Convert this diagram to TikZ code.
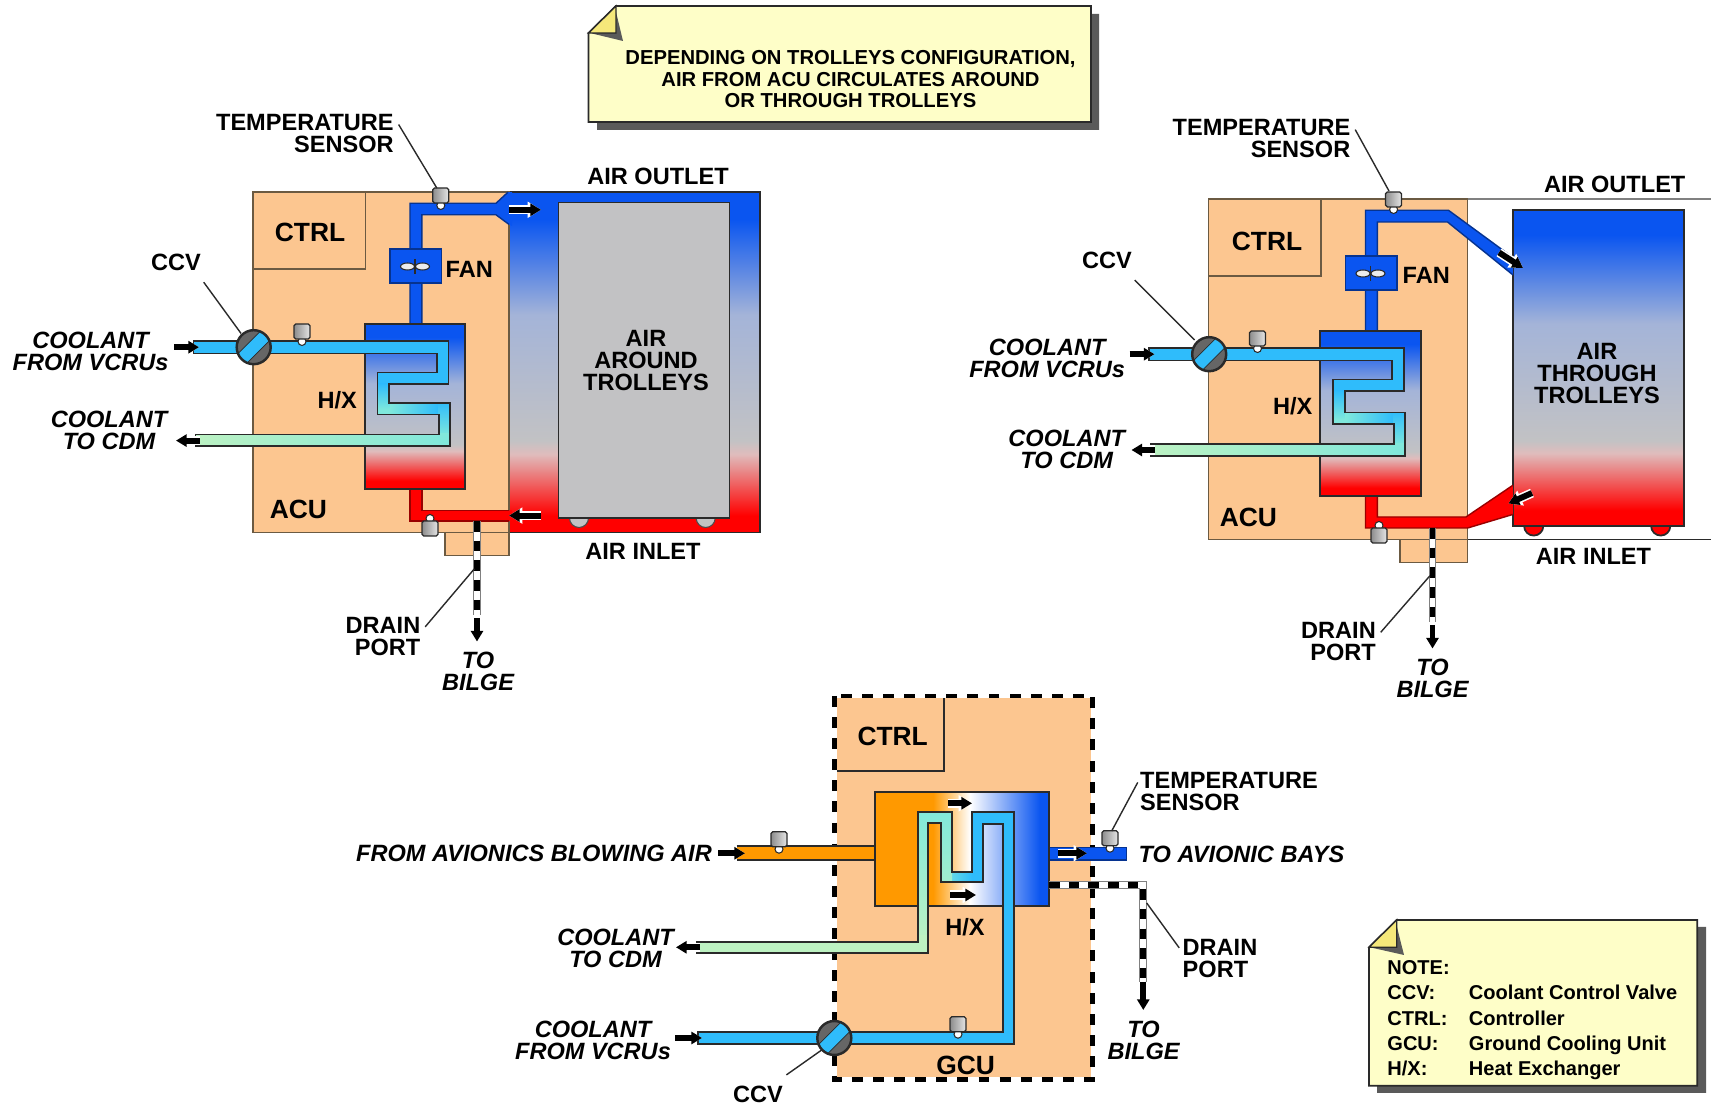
\documentclass[tikz,border=0pt]{standalone}
\usepackage{fontspec}
\setmainfont{Liberation Sans}
\usetikzlibrary{arrows.meta}
\definecolor{acutan}{HTML}{FCC690}
\definecolor{tanline}{HTML}{6B5A42}
\definecolor{linedark}{HTML}{2A2A2A}
\definecolor{airblue}{HTML}{0A55F0}
\definecolor{airmid}{HTML}{A4B4D8}
\definecolor{airgray}{HTML}{C2C2C4}
\definecolor{airpink}{HTML}{E0BCBC}
\definecolor{airred}{HTML}{FF0000}
\definecolor{coolcyan}{HTML}{2FBCFB}
\definecolor{coolteal}{HTML}{7FE8DC}
\definecolor{coolpale}{HTML}{BDF2C2}
\definecolor{hxorange}{HTML}{FF9900}
\definecolor{notefill}{HTML}{FEFEC8}
\definecolor{notefold}{HTML}{F5E87A}
\definecolor{noteshade}{HTML}{5A5A5A}
\pgfdeclareverticalshading{airblend}{100bp}{color(0bp)=(airred); color(27.5bp)=(airred); color(36.5bp)=(airpink); color(38.5bp)=(airgray); color(57bp)=(airmid); color(71bp)=(airblue); color(100bp)=(airblue)}
\pgfdeclarehorizontalshading{hxblend}{100bp}{color(0bp)=(hxorange); color(41.7bp)=(hxorange); color(52.3bp)=(white); color(72.4bp)=(airblue); color(100bp)=(airblue)}
\tikzset{
  lbl/.style={font=\bfseries\fontsize{6.7}{6.26}\selectfont, align=center, inner sep=0pt},
  lblit/.style={font=\bfseries\itshape\fontsize{6.7}{6.26}\selectfont, align=center, inner sep=0pt},
  lblbig/.style={font=\bfseries\fontsize{7.5}{8}\selectfont, inner sep=0pt},
  notetext/.style={font=\bfseries\fontsize{5.75}{6.1}\selectfont, align=center, inner sep=0pt},
  unitbox/.style={fill=acutan, draw=tanline, line width=.5pt},
  pipeline/.style={draw=linedark, line width=.5pt},
  pipeblue/.style={draw=airblue!60!black, line width=.4pt},
  pipered/.style={draw=airred!60!black, line width=.4pt},
  leader/.style={draw=linedark, line width=.4pt},
  flow/.style={line width=1.7pt, -{Triangle[length=3pt,width=3.4pt]},
    preaction={draw=white, line width=2.6pt, -{Triangle[length=3.8pt,width=4.4pt]}}},
  drainpipe/.style={draw=black, line width=1.7pt, dash pattern=on 3pt off 2.6pt,
    preaction={draw=gray, line width=2.2pt, solid},
    preaction={draw=white, line width=1.6pt, solid}},
  pics/sensor/.style={code={
    \filldraw[fill=white, draw=linedark, line width=.3pt] (0,2.5) circle (4);
    \shadedraw[left color=gray!90, right color=gray!20, draw=linedark, line width=.35pt,
      rounded corners=.5pt] (-8,-15) rectangle (8,0);
  }},
  pics/valve/.style={code={
    \fill[gray!80!black] (0,0) circle (17);
    \begin{scope}
      \clip (0,0) circle (17);
      \filldraw[fill=coolcyan, draw=linedark, line width=.2pt, rotate=45] (-20,-6.5) rectangle (20,6.5);
    \end{scope}
    \draw[linedark, line width=.7pt] (0,0) circle (17);
  }}
}
% parts shared by both ACUs
\newcommand{\acubox}[1]{
  \draw[unitbox] (253,192.2) rectangle (#1,532.5);
  \draw[unitbox] (253,192.2) rectangle (365.6,268.8);
  \draw[unitbox] (444.7,532.5) rectangle (#1,555.4);
}
\newcommand{\acucore}[1]{
  % heat exchanger and fan
  \shadedraw[shading=airblend, pipeline] (364.8,323.9) rectangle (465.3,489.2);
  \filldraw[fill=airblue, pipeblue] (390,249) rectangle (441.5,283);
  \filldraw[fill=white!85!gray, draw=linedark, line width=.3pt] (407.5,266.5) ellipse (7 and 3.5);
  \filldraw[fill=white!85!gray, draw=linedark, line width=.3pt] (422.5,266.5) ellipse (7 and 3.5);
  \draw[linedark, line width=.3pt] (415,259) -- (415,274);
  % coolant coil
  \def\coilpath{(253.7,341) -- (448.6,341) -- (448.6,384) -- (389.3,384) -- (389.3,403+#1) -- (449.8,403+#1) -- (449.8,446.3+#1) -- (195.6,446.3+#1) -- (195.6,434.5+#1) -- (438.8,434.5+#1) -- (438.8,414.6+#1) -- (377.5,414.6+#1) -- (377.5,372.5) -- (436.8,372.5) -- (436.8,353.4) -- (193.6,353.4) -- (193.6,341) -- cycle}
  \begin{scope}
    \clip \coilpath;
    \fill[coolcyan] (190,335) rectangle (455,385);
    \shade[top color=coolcyan, bottom color=coolteal] (375,384) rectangle (392,410+#1);
    \fill[coolteal] (375,410+#1) rectangle (392,416+#1);
    \shade[left color=coolteal, right color=coolcyan] (390,402+#1) rectangle (438,416+#1);
    \shade[top color=coolcyan, bottom color=coolteal] (438,402+#1) rectangle (452,436+#1);
    \shade[left color=coolpale, right color=coolteal] (190,434+#1) rectangle (452,448+#1);
  \end{scope}
  \draw[pipeline] \coilpath;
  \pic at (253.7,347.2) {valve};
  \pic at (302,339) {sensor};
  % drain
  \coordinate (drainTop) at (477,521);
  \coordinate (drainEnd) at (477,614.7);
  \coordinate (drainHead) at (477,618);
  \coordinate (drainTip) at (477,641.5);
  \draw[drainpipe] (drainTop) -- (drainEnd);
  \draw[flow] (drainHead) -- (drainTip);
  % flow arrows on coolant
  \coordinate (coolInA) at (174,347.2);
  \coordinate (coolInB) at (199,347.2);
  \coordinate (coolOutA) at (199.5,440.6+#1);
  \coordinate (coolOutB) at (176,440.6+#1);
  \draw[flow] (coolInA) -- (coolInB);
  \draw[flow] (coolOutA) -- (coolOutB);
}
\begin{document}
\begin{tikzpicture}[x=0.01cm,y=-0.01cm]
  \useasboundingbox (0,0) rectangle (1711,1104);

  % top note
  \fill[noteshade] (597,41) -- (624,14) -- (1099,14) -- (1099,130) -- (597,130) -- cycle;
  \filldraw[fill=notefill, draw=linedark, line width=.5pt] (588.5,33) -- (616,6) -- (1091,6) -- (1091,122) -- (588.5,122) -- cycle;
  \fill[noteshade] (616,12) -- (623,41) -- (592,33.5) -- cycle;
  \filldraw[fill=notefold, draw=linedark, line width=.4pt] (588.5,33) -- (616,6) -- (616,33) -- cycle;
  \node[notetext] (topNote) at (850.5,79.5) {DEPENDING ON TROLLEYS CONFIGURATION,\\AIR FROM ACU CIRCULATES AROUND\\OR THROUGH TROLLEYS};

  % left ACU, air around trolleys
  \shadedraw[shading=airblend, pipeline] (509,192.2) rectangle (760,532.5);
  \filldraw[fill=airgray, draw=gray!60!black, line width=.3pt] (579,518) circle (9.5);
  \filldraw[fill=airgray, draw=gray!60!black, line width=.3pt] (705.7,518) circle (9.5);
  \filldraw[fill=airgray, pipeline] (558.6,202.6) rectangle (729.4,518);
  \acubox{509}
  \fill[airblue] (410,324) -- (410,203.3) -- (496,203.3) -- (508,192.2) -- (512,192.2) -- (512,226) -- (509,224.4) -- (496,214.8) -- (421.8,214.8) -- (421.8,324) -- cycle;
  \draw[pipeblue] (410,324) -- (410,203.3) -- (496,203.3) -- (508,192.2);
  \draw[pipeblue] (421.8,324) -- (421.8,214.8) -- (496,214.8) -- (509,224.4);
  \fill[airred] (410,489) -- (421.8,489) -- (421.8,510.3) -- (512,510.3) -- (512,521) -- (410,521) -- cycle;
  \draw[pipered] (421.8,489) -- (421.8,510.3) -- (509,510.3);
  \draw[pipered] (410,489) -- (410,521) -- (509,521);
  \acucore{0}
  \pic at (440.8,203) {sensor};
  \pic[yscale=-1] at (430,521) {sensor};
  \coordinate (outA) at (509,209.8);
  \coordinate (outB) at (541,209.8);
  \coordinate (inA) at (541,515.6);
  \coordinate (inB) at (509,515.6);
  \draw[flow] (outA) -- (outB);
  \draw[flow] (inA) -- (inB);
  \node[lbl, align=right, anchor=east] (tempL) at (394.4,133.9) {TEMPERATURE\\SENSOR};
  \coordinate (tempTipL) at (436.8,188);
  \draw[leader] ([shift={(1.2pt,-3pt)}]tempL.north east) -- (tempTipL);
  \node[lblbig] (ctrlL) at (310,232) {CTRL};
  \node[lblbig] (acuL) at (298.4,509.8) {ACU};
  \node[lbl, anchor=west] (fanL) at (445,269.5) {FAN};
  \node[lbl, anchor=east] (hxL) at (357.5,400.4) {H/X};
  \node[lblit] (coolInL) at (90.6,351) {COOLANT\\FROM VCRUs};
  \node[lblit] (coolOutL) at (109,430.5) {COOLANT\\TO CDM};
  \node[lbl, align=right, anchor=east] (drainL) at (421,636.2) {DRAIN\\PORT};
  \coordinate (drainTipL) at (474.4,568.8);
  \draw[leader] ([shift={(1.2pt,-3pt)}]drainL.north east) -- (drainTipL);
  \node[lblit] (bilgeL) at (478,671.7) {TO\\BILGE};
  \node[lbl] (outletL) at (658,176.8) {AIR OUTLET};
  \node[lbl] (inletL) at (643,551.4) {AIR INLET};
  \node[lbl] (trolleyL) at (646,360.5) {AIR\\AROUND\\TROLLEYS};
  \node[lbl] (ccvL) at (176,262.6) {CCV};
  \coordinate (ccvTipL) at (241,333.4);
  \draw[leader] ([shift={(.6pt,-3pt)}]ccvL.south east) -- (ccvTipL);

  % right ACU, air through trolleys
  \filldraw[fill=airred, pipeline] (1533.7,526) circle (9.6);
  \filldraw[fill=airred, pipeline] (1660.7,526) circle (9.6);
  \shadedraw[shading=airblend, pipeline] (1513,209.7) rectangle (1684,526);
  \draw[draw=gray, line width=.5pt] (1467,199) -- (1711,199);
  \draw[pipeline] (1467,539.6) -- (1711,539.6);
  \begin{scope}[shift={(955.5,7)},name prefix=r-]
    \acubox{512}
  \end{scope}
  \fill[airblue] (1365.5,331) -- (1365.5,210.3) -- (1448.5,210.3) -- (1513,257.6) -- (1513,275) -- (1447.5,222) -- (1377.3,222) -- (1377.3,331) -- cycle;
  \draw[pipeblue] (1365.5,331) -- (1365.5,210.3) -- (1448.5,210.3) -- (1513,257.6);
  \draw[pipeblue] (1513,275) -- (1447.5,222) -- (1377.3,222) -- (1377.3,331);
  \fill[airred] (1365.5,496) -- (1365.5,528) -- (1467.7,528) -- (1513,514.4) -- (1513,485.2) -- (1466,517) -- (1377.3,517) -- (1377.3,496) -- cycle;
  \draw[pipered] (1365.5,496) -- (1365.5,528) -- (1467.7,528) -- (1513,514.4);
  \draw[pipered] (1513,485.2) -- (1466,517) -- (1377.3,517) -- (1377.3,496);
  \begin{scope}[shift={(955.5,7)},name prefix=r-]
    \acucore{2.4}
  \end{scope}
  \pic at (1393.6,207) {sensor};
  \pic[yscale=-1] at (1379,528) {sensor};
  \coordinate (outC) at (1499,252.5);
  \coordinate (outD) at (1523,268);
  \coordinate (inC) at (1532,493);
  \coordinate (inD) at (1508.4,503.5);
  \draw[flow] (outC) -- (outD);
  \draw[flow] (inC) -- (inD);
  \node[lbl, align=right, anchor=east] (tempR) at (1351,139) {TEMPERATURE\\SENSOR};
  \coordinate (tempTipR) at (1389,191);
  \draw[leader] ([shift={(1.2pt,-3pt)}]tempR.north east) -- (tempTipR);
  \node[lblbig] (ctrlR) at (1267,241.2) {CTRL};
  \node[lblbig] (acuR) at (1248.4,517.9) {ACU};
  \node[lbl, anchor=west] (fanR) at (1402,275.4) {FAN};
  \node[lbl, anchor=east] (hxR) at (1313,406.4) {H/X};
  \node[lblit] (coolInR) at (1047.2,358.7) {COOLANT\\FROM VCRUs};
  \node[lblit] (coolOutR) at (1066.7,449.2) {COOLANT\\TO CDM};
  \node[lbl, align=right, anchor=east] (drainR) at (1376.5,641.7) {DRAIN\\PORT};
  \coordinate (drainTipR) at (1429.9,575.8);
  \draw[leader] ([shift={(1.2pt,-3pt)}]drainR.north east) -- (drainTipR);
  \node[lblit] (bilgeR) at (1432.5,678.7) {TO\\BILGE};
  \node[lbl] (outletR) at (1614.7,184.4) {AIR OUTLET};
  \node[lbl] (inletR) at (1593.5,556) {AIR INLET};
  \node[lbl] (trolleyR) at (1597,374) {AIR\\THROUGH\\TROLLEYS};
  \node[lbl] (ccvR) at (1107,260.6) {CCV};
  \coordinate (ccvTipR) at (1194.7,340);
  \draw[leader] ([shift={(.6pt,-3pt)}]ccvR.south east) -- (ccvTipR);

  % GCU
  \fill[acutan] (836.5,698) rectangle (1090.5,1077.5);
  \draw[black, line width=1.3pt, dash pattern=on 3.1pt off 2.9pt] (834.3,696) rectangle (1092.7,1079.3);
  \draw[linedark, line width=.5pt] (836.7,770.7) -- (944.3,770.7) -- (944.3,698.3);
  \fill[hxorange] (736.7,845.7) rectangle (876,860);
  \draw[pipeline] (736.7,845.7) -- (875,845.7);
  \draw[pipeline] (736.7,860) -- (875,860);
  \fill[airblue] (1048,847.7) rectangle (1126.7,860);
  \draw[pipeblue] (1049,847.7) -- (1126.7,847.7) -- (1126.7,860) -- (1049,860);
  \shadedraw[shading=hxblend, pipeline] (875,792.3) rectangle (1049,905.7);
  \def\gcucoil{(698.3,1031.7) -- (1002.7,1031.7) -- (1002.7,824.3) -- (983.3,824.3) -- (983.3,882.3) -- (940.7,882.3) -- (940.7,823.3) -- (928.3,823.3) -- (928.3,953.3) -- (696.7,953.3) -- (696.7,941.7) -- (918.3,941.7) -- (918.3,812.3) -- (951.7,812.3) -- (951.7,871.7) -- (971.7,871.7) -- (971.7,812.3) -- (1014.3,812.3) -- (1014.3,1044) -- (698.3,1044) -- cycle}
  \begin{scope}
    \clip \gcucoil;
    \fill[coolcyan] (690,805) rectangle (1020,1050);
    \shade[left color=coolteal, right color=coolcyan] (940,865) rectangle (972,885);
    \shade[top color=coolteal, bottom color=coolpale] (915,805) rectangle (952,945);
    \fill[coolpale] (690,935) rectangle (932,960);
  \end{scope}
  \draw[pipeline] \gcucoil;
  \pic at (834.3,1038) {valve};
  \pic at (779,846.7) {sensor};
  \pic at (958,1031.7) {sensor};
  \pic at (1110,845.7) {sensor};
  \coordinate (gDrainA) at (1049,885);
  \coordinate (gDrainB) at (1143.3,885);
  \coordinate (gDrainC) at (1143.3,981.7);
  \coordinate (gDrainD) at (1143.3,1010);
  \draw[drainpipe] (gDrainA) -- (gDrainB) -- (gDrainC);
  \draw[flow] (gDrainC) -- (gDrainD);
  \coordinate (hxFlowA) at (948.3,803.3);
  \coordinate (hxFlowB) at (972,803.3);
  \coordinate (hxFlowC) at (950,895);
  \coordinate (hxFlowD) at (976,895);
  \coordinate (airInA) at (718.3,853.3);
  \coordinate (airInB) at (745,853.3);
  \coordinate (airOutA) at (1058,853.3);
  \coordinate (airOutB) at (1087,853.3);
  \coordinate (gCoolA) at (675,1038);
  \coordinate (gCoolB) at (702,1038);
  \coordinate (gCoolC) at (700,947.3);
  \coordinate (gCoolD) at (676,947.3);
  \foreach \a/\b in {hxFlowA/hxFlowB,hxFlowC/hxFlowD,airInA/airInB,airOutA/airOutB,gCoolA/gCoolB,gCoolC/gCoolD}
    \draw[flow] (\a) -- (\b);
  \node[lblbig] (ctrlG) at (892.7,736.5) {CTRL};
  \node[lblbig] (gcuG) at (965.7,1065) {GCU};
  \node[lbl] (hxG) at (965,927.3) {H/X};
  \node[lblit, anchor=east] (fromAir) at (712.5,853.6) {FROM AVIONICS BLOWING AIR};
  \node[lblit, anchor=west] (toBays) at (1138,854.4) {TO AVIONIC BAYS};
  \node[lbl, align=left, anchor=west] (tempG) at (1139.5,791.8) {TEMPERATURE\\SENSOR};
  \coordinate (tempGTip) at (1111.7,831);
  \draw[leader] ([shift={(-.5pt,-3pt)}]tempG.north west) -- (tempGTip);
  \node[lbl, align=left, anchor=west] (drainG) at (1182,959) {DRAIN\\PORT};
  \coordinate (drainGTip) at (1146.7,903);
  \draw[leader] ([shift={(-.8pt,-2.5pt)}]drainG.north west) -- (drainGTip);
  \node[lblit] (bilgeG) at (1143.6,1040) {TO\\BILGE};
  \node[lblit] (coolOutG) at (615.5,948) {COOLANT\\TO CDM};
  \node[lblit] (coolInG) at (593,1040) {COOLANT\\FROM VCRUs};
  \node[lbl] (ccvG) at (758,1094.5) {CCV};
  \coordinate (ccvGTip) at (821.7,1050);
  \draw[leader] ([shift={(.8pt,3pt)}]ccvG.north east) -- (ccvGTip);

  % bottom note
  \fill[noteshade] (1377,955) -- (1405,927) -- (1706,927) -- (1706,1093) -- (1377,1093) -- cycle;
  \filldraw[fill=notefill, draw=linedark, line width=.5pt] (1369,947.3) -- (1396.7,920) -- (1697.3,920) -- (1697.3,1085.7) -- (1369,1085.7) -- cycle;
  \fill[noteshade] (1396.7,926) -- (1404,955) -- (1373,948) -- cycle;
  \filldraw[fill=notefold, draw=linedark, line width=.4pt] (1369,947.3) -- (1396.7,920) -- (1396.7,947.3) -- cycle;
  \node[anchor=west, inner sep=0pt, font=\bfseries\fontsize{5.7}{7.2}\selectfont] (noteBox) at (1386.7,1020) {%
    \begin{tabular}{@{}p{23.2pt}@{}l@{}}
      NOTE:&\\
      CCV:&Coolant Control Valve\\
      CTRL:&Controller\\
      GCU:&Ground Cooling Unit\\
      H/X:&Heat Exchanger
    \end{tabular}};
\end{tikzpicture}
\end{document}
